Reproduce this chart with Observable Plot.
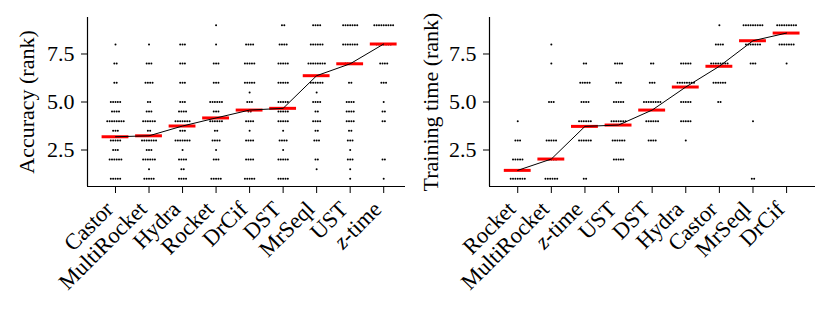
<!DOCTYPE html>
<html><head><meta charset="utf-8">
<script src="https://cdn.jsdelivr.net/npm/d3@7"></script>
<script src="https://cdn.jsdelivr.net/npm/@observablehq/plot@0.6"></script>
<style>
body{margin:0;background:#fff;}
#wrap{display:flex;width:830px;height:310px;overflow:hidden;}
</style></head><body><div id="wrap"></div>
<script>
// ---- Accuracy panel ----
const accMethods = ["Castor","MultiRocket","Hydra","Rocket","DrCif","DST","MrSeql","UST","z-time"];
const accMeans = [3.19, 3.24, 3.75, 4.17, 4.58, 4.67, 6.37, 6.99, 8.02];
const accLevels = [1,1.5,2,2.5,3,3.5,4,4.5,5,5.5,6,6.5,7,7.5,8,8.5,9];
// number of datasets at each rank level (rows follow accMethods, columns follow accLevels)
const accCounts = [
  [5,0,6,3,5,3,8,4,5,0,2,0,2,0,1,0,0],
  [5,1,6,3,7,2,6,3,2,0,4,0,3,0,1,0,0],
  [4,2,4,1,7,3,7,4,3,0,3,0,3,0,3,0,0],
  [5,0,3,1,4,2,6,3,6,0,3,0,3,0,1,0,1],
  [5,0,4,0,4,1,4,2,3,1,5,0,5,0,4,0,0],
  [5,0,5,1,4,1,5,5,5,0,5,0,5,0,4,0,2],
  [0,1,2,0,3,2,4,2,4,1,6,0,8,0,6,0,4],
  [1,1,3,1,3,2,4,4,4,0,2,0,5,0,7,0,7],
  [1,0,2,0,0,0,2,2,1,0,3,0,4,0,7,0,9]
];

// ---- Training time panel ----
const trainMethods = ["Rocket","MultiRocket","z-time","UST","DST","Hydra","Castor","MrSeql","DrCif"];
const trainMeans = [1.44, 2.03, 3.73, 3.80, 4.58, 5.78, 6.86, 8.19, 8.59];
const trainLevels = [1,2,3,4,5,6,7,8,9];
const trainCounts = [
  [7,5,3,1,0,0,0,0,0],
  [6,5,5,0,3,0,1,1,0],
  [2,0,6,6,4,5,2,0,0],
  [0,5,6,7,5,3,4,0,0],
  [0,0,4,6,8,3,2,0,0],
  [0,0,1,5,5,8,5,0,0],
  [0,0,0,0,2,6,8,4,1],
  [2,0,0,1,0,0,3,7,9],
  [0,0,0,0,0,0,1,7,9]
];

const yTicks = [2.5, 5.0, 7.5];

function panel(methods, means, levels, counts, label, o) {
  const dots = [];
  methods.forEach((m, i) => {
    counts[i].forEach((n, j) => {
      for (let k = 0; k < n; k++) dots.push({i, rank: levels[j], k, n});
    });
  });
  const meanData = methods.map((m, i) => ({i, mean: means[i]}));
  const idx = d3.range(methods.length);
  const svg = Plot.plot({
    width: 415, height: 310,
    marginLeft: o.ml, marginRight: o.mr, marginTop: 17, marginBottom: 124,
    style: {fontFamily: "'Liberation Serif', serif", fontSize: "22px", color: "#000", background: "#fff", overflow: "visible"},
    x: {domain: o.xd},
    y: {domain: [0.6, 9.4]},
    marks: [
      Plot.axisY({ticks: yTicks, tickFormat: d => d.toFixed(1), tickSize: 6, tickPadding: 7,
        label, labelAnchor: "center", labelOffset: o.lo, labelArrow: "none"}),
      Plot.axisX({ticks: idx, tickFormat: () => "", tickSize: 7, label: null}),
      Plot.axisX({ticks: idx, tickFormat: i => methods[i], tickRotate: -45,
        tickSize: 0, tickPadding: 10, dx: -6, dy: 9, fontSize: 22.5, label: null}),
      Plot.ruleX([o.xd[0]], {stroke: "#000", strokeWidth: 1.2}),
      Plot.ruleY([0.6], {stroke: "#000", strokeWidth: 1.2}),
      Plot.dot(dots, {x: d => d.i + (d.k - (d.n - 1) / 2) * 0.07, y: "rank", r: 1.0, fill: "#000", stroke: null}),
      Plot.ruleY(meanData, {y: "mean", x1: d => d.i - 0.4, x2: d => d.i + 0.4, stroke: "#ff0000", strokeWidth: 3}),
      Plot.line(meanData, {x: "i", y: "mean", stroke: "#000", strokeWidth: 1})
    ]
  });
  svg.querySelectorAll("text").forEach(t => {
    if (t.textContent === "z-time") {
      t.innerHTML = '<tspan font-style="italic">z</tspan>-time';
    }
  });
  return svg;
}

const wrap = document.getElementById("wrap");
wrap.appendChild(panel(accMethods, accMeans, accLevels, accCounts, "Accuracy (rank)",
  {ml: 87, mr: 10, xd: [-0.835, 8.65], lo: 69}));
wrap.appendChild(panel(trainMethods, trainMeans, trainLevels, trainCounts, "Training time (rank)",
  {ml: 74, mr: 15, xd: [-0.84, 8.86], lo: 67}));
</script></body></html>
